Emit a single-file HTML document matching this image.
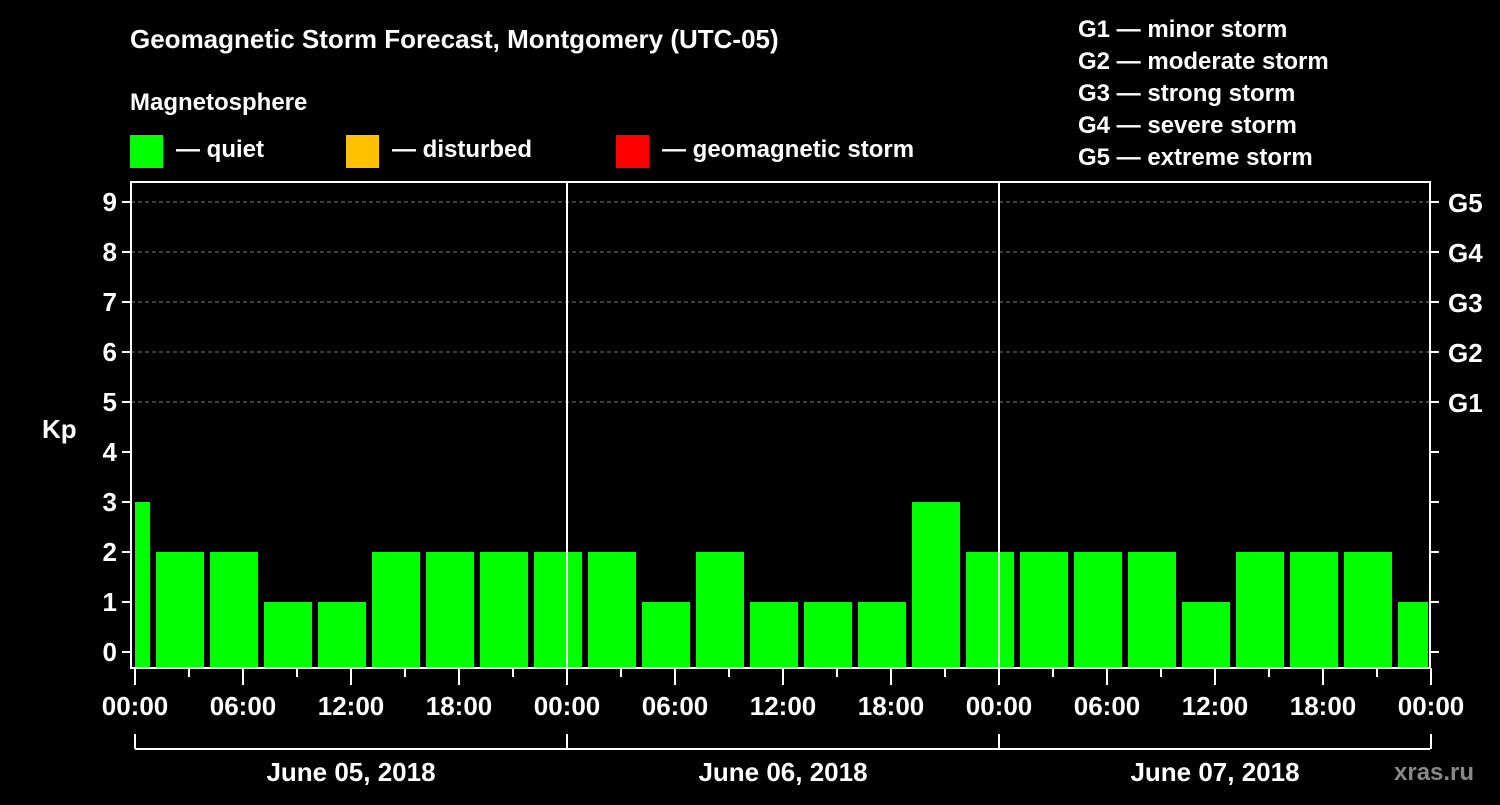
<!DOCTYPE html>
<html><head><meta charset="utf-8"><style>
body{margin:0;background:#000;}
svg text{font-family:"Liberation Sans",sans-serif;font-weight:bold;fill:#fff;}
</style></head><body>
<svg id="c" width="1500" height="800" xmlns="http://www.w3.org/2000/svg">
<rect width="1500" height="800" fill="#000"/>
<text x="130" y="48" font-size="26">Geomagnetic Storm Forecast, Montgomery (UTC-05)</text>
<text x="130" y="110" font-size="24">Magnetosphere</text>
<g>
<rect x="130" y="135" width="33" height="33" fill="#00ff00"/>
<text x="176" y="157" font-size="24">— quiet</text>
<rect x="346" y="135" width="33" height="33" fill="#ffc000"/>
<text x="392" y="157" font-size="24">— disturbed</text>
<rect x="616" y="135" width="33" height="33" fill="#ff0000"/>
<text x="662" y="157" font-size="24">— geomagnetic storm</text>
</g>
<g font-size="24">
<text x="1078" y="37">G1 — minor storm</text>
<text x="1078" y="69">G2 — moderate storm</text>
<text x="1078" y="101">G3 — strong storm</text>
<text x="1078" y="133">G4 — severe storm</text>
<text x="1078" y="165">G5 — extreme storm</text>
</g>
<text x="42" y="438" font-size="26">Kp</text>
<text x="1394" y="780" font-size="24" style="fill:#888">xras.ru</text>
<g id="plot"></g>
</svg>
<script>
const barValues = [3,2,2,1,1,2,2,2,2,2,1,2,1,1,1,3,2,2,2,2,1,2,2,2,1];
const barStartHours = [-2,1,4,7,10,13,16,19,22,25,28,31,34,37,40,43,46,49,52,55,58,61,64,67,70];
const yTicks = [0,1,2,3,4,5,6,7,8,9];
const gLabels = ["G1","G2","G3","G4","G5"];
const xTickLabels = ["00:00","06:00","12:00","18:00","00:00","06:00","12:00","18:00","00:00","06:00","12:00","18:00","00:00"];
const dayLabels = ["June 05, 2018","June 06, 2018","June 07, 2018"];

const NS="http://www.w3.org/2000/svg";
const g=document.getElementById('plot');
const X0=135, PX_H=18, XL=131, XR=1430, YT=182, YB=668;
const xs=h=>X0+h*PX_H;
const ys=v=>652-v*50;
function el(t,a,p){const e=document.createElementNS(NS,t);for(const k in a)e.setAttribute(k,a[k]);(p||g).appendChild(e);return e;}
// grid
yTicks.filter(v=>v>=5).forEach(v=>{
 const l=el('line',{x1:XL,x2:XR,y1:ys(v),y2:ys(v),stroke:'#777','stroke-dasharray':'4,3'});
 
 
});
// bars
barValues.forEach((v,i)=>{
 const h=barStartHours[i];
 let x1=Math.max(xs(h)+3,X0), x2=Math.min(xs(h+3)-3,XR-2);
 const r=el('rect',{x:x1,y:ys(v),width:x2-x1,height:YB-ys(v),fill:'#00ff00'});
 
 
});
// day separators
[1,2].forEach(d=>{
 const l=el('line',{x1:xs(d*24),x2:xs(d*24),y1:YT,y2:YB,stroke:'#fff','stroke-width':2});
 
 
});
// frame
const f=el('rect',{x:XL,y:YT,width:XR-XL,height:YB-YT,fill:'none',stroke:'#fff','stroke-width':2});


// y ticks
yTicks.forEach(v=>{
 el('line',{x1:XL-9,x2:XL,y1:ys(v),y2:ys(v),stroke:'#fff','stroke-width':2});
 el('line',{x1:XR,x2:XR+9,y1:ys(v),y2:ys(v),stroke:'#fff','stroke-width':2});
 const t=el('text',{x:XL-14,y:ys(v)+9,'font-size':26,'text-anchor':'end'});t.textContent=v;
 
 
});
gLabels.forEach((s,i)=>{
 const t=el('text',{x:XR+18,y:ys(5+i)+10,'font-size':26});t.textContent=s;
 
 
});
// x ticks
for(let h=0;h<=72;h+=3){
 const major=h%6===0;
 el('line',{x1:xs(h),x2:xs(h),y1:YB,y2:YB+(major?17:9),stroke:'#fff','stroke-width':2});
}
xTickLabels.forEach((s,i)=>{
 const t=el('text',{x:xs(i*6),y:715,'font-size':26,'text-anchor':'middle'});t.textContent=s;
 
 
});
// date bracket
el('line',{x1:X0,x2:XR,y1:749,y2:749,stroke:'#fff','stroke-width':2});
[0,24,48,72].forEach(h=>el('line',{x1:xs(h),x2:xs(h),y1:734,y2:749,stroke:'#fff','stroke-width':2}));
dayLabels.forEach((s,i)=>{
 const t=el('text',{x:xs(i*24+12),y:781,'font-size':26,'text-anchor':'middle'});t.textContent=s;
 
 
});
</script>
</body></html>
